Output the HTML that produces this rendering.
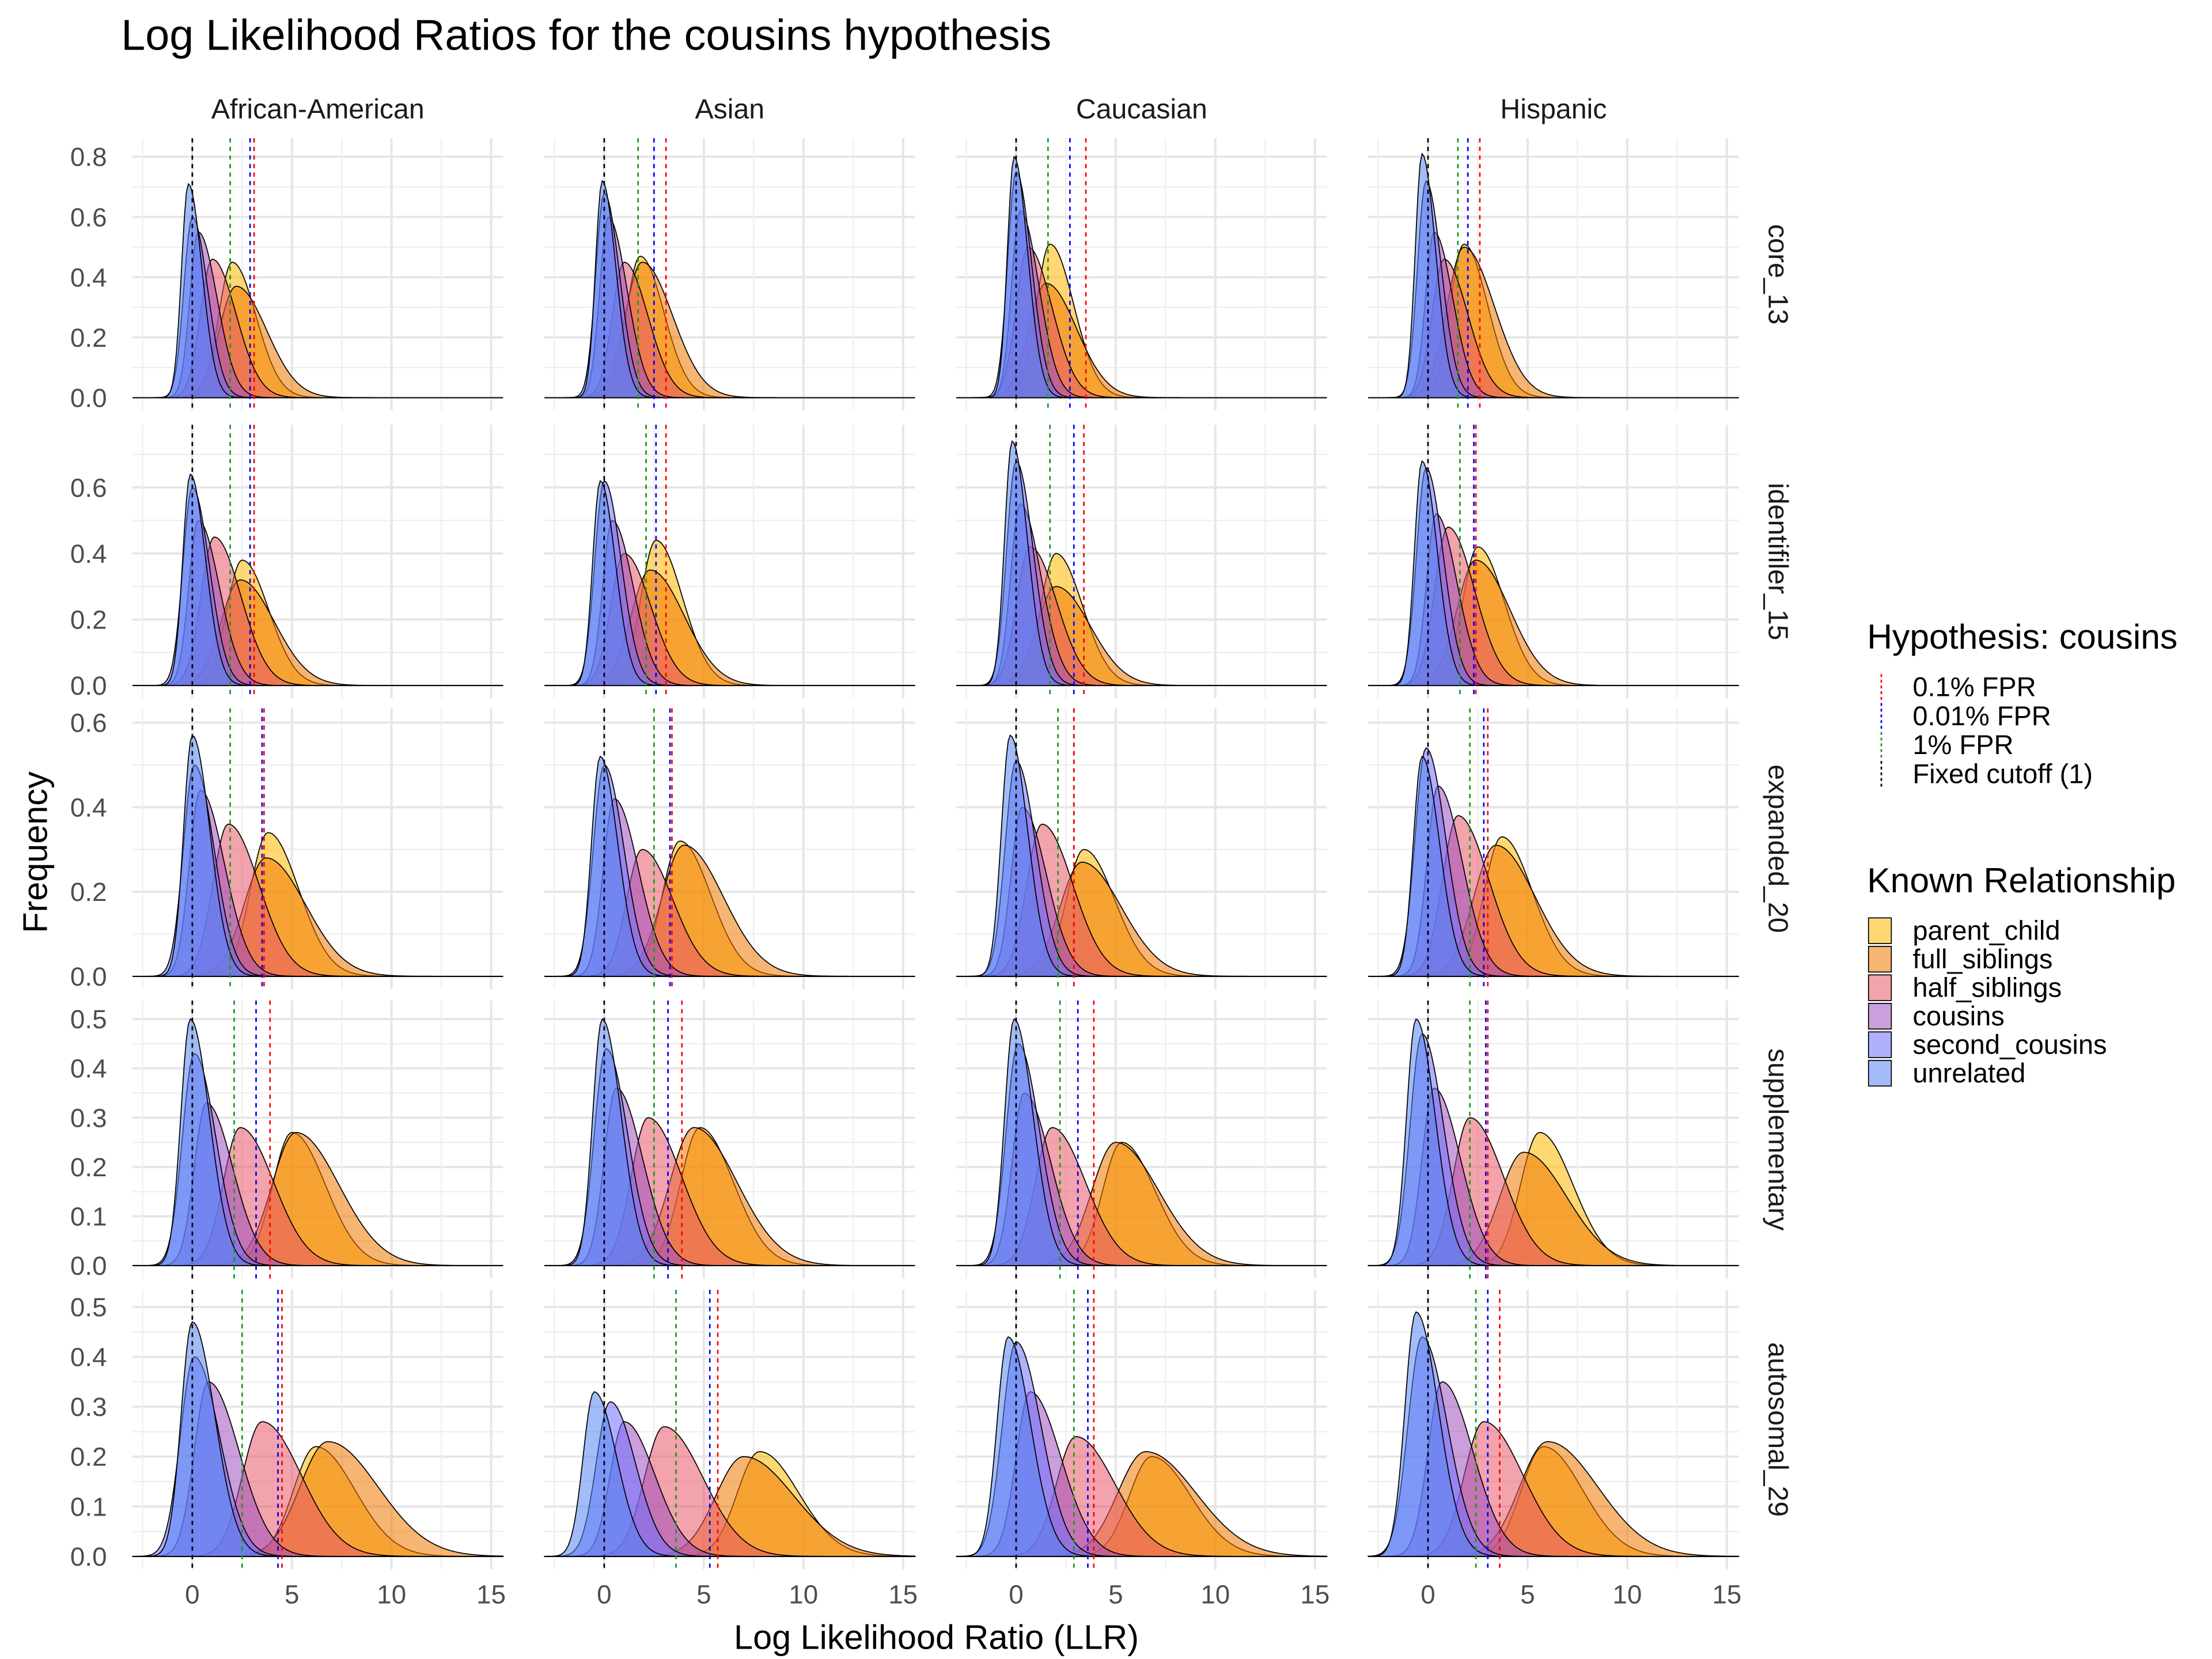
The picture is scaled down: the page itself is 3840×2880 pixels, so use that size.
<!DOCTYPE html>
<html><head><meta charset="utf-8"><style>
html,body{margin:0;padding:0;background:#fff;}
svg{display:block;font-family:"Liberation Sans",sans-serif;}
</style></head><body>
<svg id="chart" width="3840" height="2880" viewBox="0 0 1552 1164" xmlns="http://www.w3.org/2000/svg">
<text x="85" y="35" font-size="30.5" fill="#000">Log Likelihood Ratios for the cousins hypothesis</text>
<text transform="translate(33,598) rotate(-90)" text-anchor="middle" font-size="24">Frequency</text>
<text x="657" y="1157" text-anchor="middle" font-size="24">Log Likelihood Ratio (LLR)</text>
<g id="legend"></g>
<g id="panels"></g>
</svg>
<script>
const populations=["African-American","Asian","Caucasian","Hispanic"];
const panels=["core_13","identifiler_15","expanded_20","supplementary","autosomal_29"];
const groups=["parent_child","full_siblings","half_siblings","cousins","second_cousins","unrelated"];
const xTicks=[0,5,10,15];
const yTicksRows=[[0,0.2,0.4,0.6,0.8],[0,0.2,0.4,0.6],[0,0.2,0.4,0.6],[0,0.1,0.2,0.3,0.4,0.5],[0,0.1,0.2,0.3,0.4,0.5]];
const modes=[
[[2.0,2.2,1.0,0.3,0.0,-0.2],[1.8,1.9,1.0,0.2,0.0,-0.1],[1.7,1.5,0.6,0.2,0.0,-0.1],[1.8,1.8,0.8,0.3,-0.1,-0.3]],
[[2.5,2.4,1.1,0.3,0.0,-0.1],[2.6,2.3,1.0,0.4,0.0,-0.2],[2.0,2.0,0.7,0.2,0.0,-0.2],[2.5,2.4,1.0,0.4,-0.1,-0.3]],
[[3.8,3.7,1.8,0.4,0.1,0.0],[3.8,4.0,1.9,0.5,0.0,-0.2],[3.4,3.3,1.3,0.3,0.0,-0.3],[3.7,3.4,1.5,0.5,-0.1,-0.3]],
[[5.0,5.2,2.4,0.7,0.1,-0.1],[4.8,4.5,2.2,0.6,0.1,-0.1],[5.3,5.0,1.8,0.4,0.1,-0.1],[5.6,4.8,2.1,0.3,-0.3,-0.6]],
[[6.2,6.8,3.5,0.8,0.1,0.0],[7.8,7.0,3.0,1.0,0.3,-0.5],[6.8,6.5,3.0,0.7,0.0,-0.4],[5.8,6.0,2.8,0.7,-0.3,-0.6]]];
const peaks=[
[[0.45,0.37,0.46,0.55,0.60,0.71],[0.47,0.45,0.45,0.60,0.68,0.72],[0.51,0.38,0.50,0.62,0.75,0.80],[0.51,0.50,0.46,0.55,0.72,0.81]],
[[0.38,0.32,0.45,0.50,0.60,0.64],[0.44,0.35,0.40,0.50,0.62,0.62],[0.40,0.30,0.42,0.55,0.68,0.74],[0.42,0.38,0.48,0.52,0.66,0.68]],
[[0.34,0.28,0.36,0.44,0.50,0.57],[0.32,0.31,0.30,0.42,0.50,0.52],[0.30,0.27,0.36,0.40,0.51,0.57],[0.33,0.31,0.38,0.45,0.54,0.52]],
[[0.27,0.27,0.28,0.33,0.43,0.50],[0.28,0.28,0.30,0.36,0.44,0.50],[0.25,0.25,0.28,0.35,0.45,0.50],[0.27,0.23,0.30,0.36,0.47,0.50]],
[[0.22,0.23,0.27,0.35,0.40,0.47],[0.21,0.20,0.26,0.27,0.31,0.33],[0.20,0.21,0.24,0.33,0.43,0.44],[0.22,0.23,0.27,0.35,0.44,0.49]]];
const sdLeft=[0.8,1.0,0.7,0.5,0.5,0.4];
const sdRight=[1.4,1.8,1.4,1.1,0.9,0.8];
const rowSpread=[0.85,0.95,1.1,1.2,1.4];
const fpr1=[[1.9,1.7,1.6,1.5],[1.9,2.1,1.7,1.6],[1.9,2.5,2.1,2.1],[2.1,2.5,2.2,2.1],[2.5,3.6,2.9,2.4]];
const fpr001=[[2.9,2.5,2.7,2.0],[2.9,2.6,2.9,2.3],[3.5,3.3,2.9,2.8],[3.2,3.2,3.1,2.9],[4.3,5.3,3.6,3.0]];
const fpr01=[[3.1,3.1,3.5,2.6],[3.1,3.1,3.4,2.4],[3.6,3.4,2.9,3.0],[3.9,3.9,3.9,3.0],[4.5,5.7,3.9,3.6]];
const fixedCutoff=0;

const NS="http://www.w3.org/2000/svg";
const colors=["#ffb800","#f07800","#e85868","#a050c0","#7070ff","#5585f0"];
const colLeft=[93,382,671,960], panelW=260, xMin=-3, xMax=15.6;
const rowTop=[97,298,497,702,905], rowZero=[279,481,685,888,1092], rowMaxY=[0.8,0.6,0.6,0.5,0.5], rowMaxPx=[110,342,507,715,917];
function el(tag,attrs,parent){const e=document.createElementNS(NS,tag);for(const k in attrs)e.setAttribute(k,attrs[k]);parent.appendChild(e);return e;}
const root=document.getElementById('panels');
for(let r=0;r<panels.length;r++){
  const y0=rowZero[r], ppu=(y0-rowMaxPx[r])/rowMaxY[r];
  const yS=v=>y0-v*ppu, bottom=y0+9, top=rowTop[r];
  yTicksRows[r].forEach(t=>{
    const tx=el('text',{x:75,y:yS(t)+6.5,'text-anchor':'end','font-size':18.5,fill:'#4d4d4d'},root);
    
    
    tx.textContent=t.toFixed(1);
  });
  const strip=el('text',{transform:`translate(1241,${(top+bottom)/2}) rotate(90)`,'text-anchor':'middle','font-size':19.5,fill:'#1a1a1a'},root);
  
  
  strip.textContent=panels[r];
  for(let c=0;c<populations.length;c++){
    const L=colLeft[c];
    const xS=v=>L+(v-xMin)/(xMax-xMin)*panelW;
    const g=el('g',{},root);
    
    
    const tk=yTicksRows[r], step=tk[1]-tk[0];
    for(let i=0;i<tk.length;i++){
      el('line',{x1:L,x2:L+panelW,y1:yS(tk[i]),y2:yS(tk[i]),stroke:'#e6e6e6','stroke-width':1.6},g);
      const mv=tk[i]+step/2; if(yS(mv)>top) el('line',{x1:L,x2:L+panelW,y1:yS(mv),y2:yS(mv),stroke:'#eeeeee','stroke-width':0.9},g);
    }
    [-2.5,2.5,7.5,12.5].forEach(v=>el('line',{x1:xS(v),x2:xS(v),y1:top,y2:bottom,stroke:'#eeeeee','stroke-width':0.9},g));
    xTicks.forEach(v=>el('line',{x1:xS(v),x2:xS(v),y1:top,y2:bottom,stroke:'#e6e6e6','stroke-width':1.6},g));
    for(let k=0;k<groups.length;k++){
      const m=modes[r][c][k], p=peaks[r][c][k], sl=sdLeft[k]*rowSpread[r], sr=sdRight[k]*rowSpread[r];
      let d=`M${xS(xMin)},${y0}`;
      for(let x=xMin;x<=xMax+1e-6;x+=0.1){const s=x<m?sl:sr;const v=p*Math.exp(-0.5*((x-m)/s)**2);d+=` L${xS(x).toFixed(2)},${yS(v).toFixed(2)}`;}
      d+=` L${xS(xMax)},${y0} Z`;
      const path=el('path',{d:d,fill:colors[k],'fill-opacity':0.55,stroke:'#000','stroke-width':0.7},g);
      
      
    }
    [[fixedCutoff,'#000'],[fpr1[r][c],'#1a9a1a'],[fpr001[r][c],'#0000ff'],[fpr01[r][c],'#ff0000']].forEach(([v,col])=>{
      const ln=el('line',{x1:xS(v),x2:xS(v),y1:top,y2:bottom,stroke:col,'stroke-width':1.1,'stroke-dasharray':'3,3'},g);
      
      
    });
    if(r===0){const st=el('text',{x:L+panelW/2,y:83,'text-anchor':'middle','font-size':19.5,fill:'#1a1a1a'},g);
      
      
      st.textContent=populations[c];}
    if(r===panels.length-1){xTicks.forEach(v=>{const t=el('text',{x:xS(v),y:1125,'text-anchor':'middle','font-size':18.5,fill:'#4d4d4d'},g);
      
      
      t.textContent=v;});}
  }
}
const lg=document.getElementById('legend');
const h1=el('text',{x:1310,y:455,'font-size':24.5},lg);h1.textContent='Hypothesis: cousins';
[['0.1% FPR','#ff0000'],['0.01% FPR','#0000ff'],['1% FPR','#1a9a1a'],['Fixed cutoff (1)','#000']].forEach((e,i)=>{
  const y=482+i*20.3;
  const ln=el('line',{x1:1320,x2:1320,y1:y-9,y2:y+9,stroke:e[1],'stroke-width':1.1,'stroke-dasharray':'2,2'},lg);
  
  
  const t=el('text',{x:1342,y:y+6.5,'font-size':19},lg);
  
  
  t.textContent=e[0];
});
const h2=el('text',{x:1310,y:626,'font-size':24.5},lg);h2.textContent='Known Relationship';
groups.forEach((gname,i)=>{
  const y=644+i*20;
  const b=el('rect',{x:1311,y:y,width:16,height:18,fill:colors[i],'fill-opacity':0.55,stroke:'#000','stroke-width':0.7},lg);
  
  
  const t=el('text',{x:1342,y:y+15.5,'font-size':19},lg);
  
  
  t.textContent=gname;
});
</script>
</body></html>
